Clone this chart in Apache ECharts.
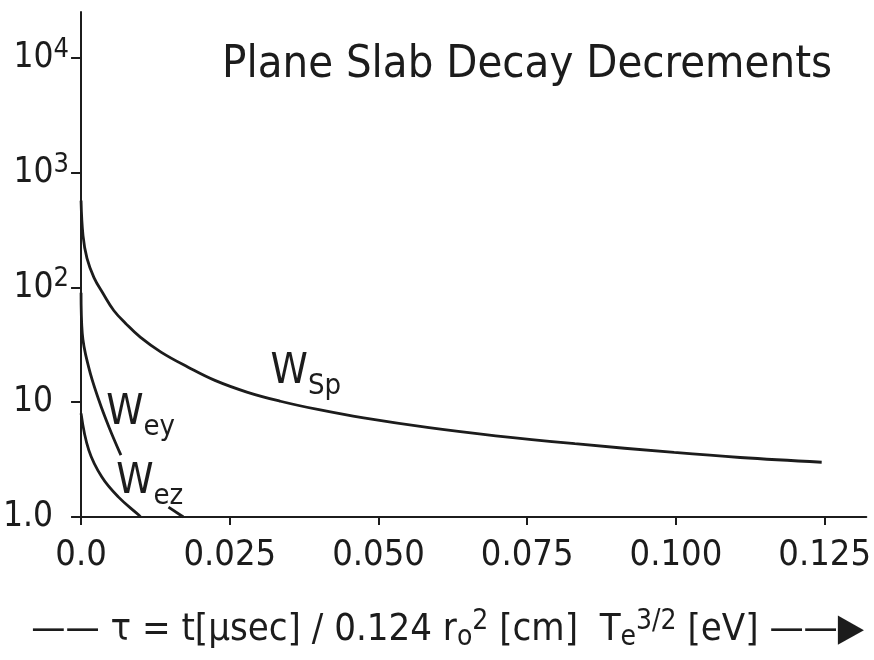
<!DOCTYPE html>
<html>
<head>
<meta charset="utf-8">
<script src="https://cdn.jsdelivr.net/npm/echarts@6/dist/echarts.min.js"></script>
<style>
  html, body { margin: 0; padding: 0; background: #fff; }
  #chart { width: 874px; height: 660px; }
</style>
</head>
<body>
<div id="chart"></div>
<script>
// reduced time tau and decay decrements
const wSpT = [0, 0.00033, 0.001, 0.00217, 0.0037, 0.0055, 0.0075, 0.010, 0.0135, 0.018, 0.0225, 0.028, 0.0335, 0.040, 0.0475, 0.0585, 0.0697, 0.083, 0.0997, 0.1108, 0.1245];
const wSpV = [571, 283, 179, 122, 88.6, 63, 48.6, 36.7, 27.2, 20.2, 15.5, 12.2, 10.2, 8.6, 7.3, 6.0, 5.1, 4.35, 3.65, 3.3, 3.0];

const wEyT = [0, 0.0002, 0.0013, 0.003, 0.0047, 0.0067];
const wEyV = [90, 40, 20, 10.4, 6.06, 3.46];
const wEyTailT = [0.0147, 0.0172];
const wEyTailV = [1.22, 1.0];

const wEzT = [0, 0.0013, 0.0035, 0.0063, 0.0097, 0.0100];
const wEzV = [8, 3.83, 2.23, 1.49, 1.04, 1.0];

const xTicks = [0, 0.025, 0.05, 0.075, 0.1, 0.125];
const xTickLabels = ['0.0', '0.025', '0.050', '0.075', '0.100', '0.125'];
const yTicks = [1, 10, 100, 1000, 10000];
const yTickLabels = ['{p|1.0}', '{p|10}', '10{s|2}', '10{s|3}', '10{s|4}'];

const font = "'Liberation Sans Narrow', 'DejaVu Sans Condensed', 'Roboto Condensed', 'Liberation Sans', sans-serif";
const ink = '#1c1c1c';

// g is an invisible spacer that makes the line tall enough to drop the subscript
const wRich = {
  g: { fontSize: 1, lineHeight: 50, color: 'rgba(0,0,0,0)' },
  w: { fontFamily: font, fontSize: 42, color: ink, lineHeight: 42, verticalAlign: 'top' },
  s: { fontFamily: font, fontSize: 29, color: ink, lineHeight: 29, verticalAlign: 'bottom' }
};

function toData(ts, vs, labelIdx, text, pos) {
  return ts.map((t, i) => {
    if (i !== labelIdx) return [t, vs[i]];
    return {
      value: [t, vs[i]],
      label: { show: true, formatter: '{g| }' + text, position: pos, rich: wRich }
    };
  });
}

function curve(data) {
  return {
    type: 'line',
    data: data,
    smooth: 0.4,
    showSymbol: true,
    symbol: 'circle',
    symbolSize: 0,
    silent: true,
    itemStyle: { color: ink },
    lineStyle: { color: ink, width: 2.8 }
  };
}

const myChart = echarts.init(document.getElementById('chart'));

const option = {
  animation: false,
  backgroundColor: '#fff',
  title: {
    text: 'Plane Slab Decay Decrements',
    left: 217,
    top: 38,
    textStyle: { fontFamily: font, fontSize: 45, fontWeight: 'normal', color: ink }
  },
  grid: { left: 81, right: 0, top: 12, bottom: 143 },
  xAxis: {
    type: 'value',
    min: 0,
    max: 0.132,
    splitLine: { show: false },
    axisLine: { show: true, onZero: false, lineStyle: { color: ink, width: 2 } },
    axisTick: { show: true, length: 8, customValues: xTicks, lineStyle: { color: ink, width: 2 } },
    axisLabel: {
      customValues: xTicks,
      margin: 21,
      fontFamily: font,
      fontSize: 36,
      color: ink,
      formatter: v => xTickLabels[xTicks.indexOf(v)] ?? ''
    },
    name: '—— τ = t[µsec] / 0.124 r{sb|o}{sp|2} [cm]  T{sb|e}{sp|3/2} [eV] ——▶',
    nameLocation: 'middle',
    nameGap: 91,
    nameTextStyle: {
      fontFamily: font,
      fontSize: 38,
      color: ink,
      padding: [0, 52, 0, 0],
      rich: {
        sb: { fontFamily: font, fontSize: 28, color: ink, verticalAlign: 'bottom', padding: [16, 0, 0, 0] },
        sp: { fontFamily: font, fontSize: 28, color: ink, verticalAlign: 'top', padding: [0, 0, 16, 0] }
      }
    }
  },
  yAxis: {
    type: 'log',
    min: 1,
    max: 25119,
    logBase: 10,
    splitLine: { show: false },
    axisLine: { show: true, onZero: false, lineStyle: { color: ink, width: 2 } },
    axisTick: { show: true, length: 10, customValues: yTicks, lineStyle: { color: ink, width: 2 } },
    axisLabel: {
      customValues: yTicks,
      margin: 12,
      fontFamily: font,
      fontSize: 35,
      color: ink,
      formatter: v => yTickLabels[yTicks.indexOf(v)] ?? '',
      rich: {
        p: { fontFamily: font, fontSize: 35, color: ink, padding: [0, 16, 0, 0] },
        s: { fontFamily: font, fontSize: 27, color: ink, verticalAlign: 'top', padding: [0, 0, 16, 0] }
      }
    }
  },
  series: [
    curve(toData(wSpT, wSpV, 12, '{w|W}{s|Sp}', [-10, -50])),
    curve(toData(wEyT, wEyV, 3, '{w|W}{s|ey}', [7, -8])),
    curve(toData(wEyTailT, wEyTailV, -1, '', null)),
    curve(toData(wEzT, wEzV, 2, '{w|W}{s|ez}', [14, -16]))
  ]
};

myChart.setOption(option);
window.addEventListener('resize', function () {
  myChart.resize();
});
</script>
</body>
</html>
